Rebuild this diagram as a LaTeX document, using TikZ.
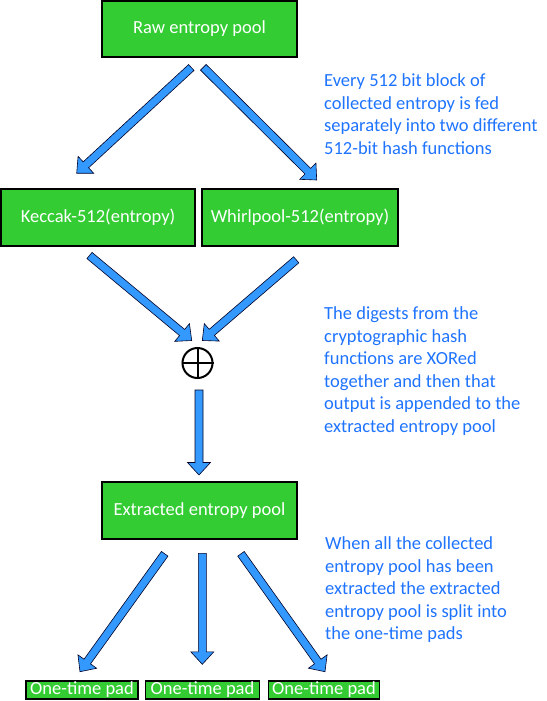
\documentclass[tikz,border=0pt]{standalone}
\usepackage{fontspec}
\setmainfont{Carlito}
\usetikzlibrary{calc}
\definecolor{boxgreen}{RGB}{51,204,51}
\definecolor{arrowblue}{RGB}{51,153,255}
\definecolor{noteblue}{RGB}{30,115,255}
\newcommand{\ashaft}{4pt}
\newcommand{\ahead}{11.5pt}
\newcommand{\ahlen}{12.5pt}
\newcommand{\blockarrow}[2]{%
  \path ($(#2)!\ahlen!(#1)$) coordinate (neck);
  \draw[barrow] ($(#1)!\ashaft!90:(#2)$) -- ($(neck)!\ashaft!90:(#2)$) -- ($(neck)!\ahead!90:(#2)$) -- (#2)
     -- ($(neck)!\ahead!-90:(#2)$) -- ($(neck)!\ashaft!-90:(#2)$) -- ($(#1)!\ashaft!-90:(#2)$) -- cycle;}
\tikzset{
  greenbox/.style={draw=black, line width=1.2pt, fill=boxgreen, text=white, inner sep=0pt,
    font=\fontsize{18.5}{22.6}\selectfont},
  barrow/.style={draw=black!85!blue, line width=0.6pt, fill=arrowblue, line join=miter},
  note/.style={text=noteblue, align=left, anchor=north west, inner sep=0pt,
    font=\fontsize{18.5}{22.6}\selectfont},
}
\begin{document}
\begin{tikzpicture}[x=1pt,y=-1pt]
\useasboundingbox (0,0) rectangle (546,701);
% boxes
\node[greenbox, minimum width=195pt, minimum height=56pt] (raw) at (199.5,29) {Raw entropy pool};
\node[greenbox, minimum width=194pt, minimum height=57pt] (keccak) at (98,217.5) {Keccak-512(entropy)};
\node[greenbox, minimum width=196pt, minimum height=57pt] (whirl) at (300,217.5) {Whirlpool-512(entropy)};
\node[greenbox, minimum width=195pt, minimum height=57pt] (extr) at (199.5,510.5) {Extracted entropy pool};
\node[greenbox, minimum width=112pt, minimum height=18pt] (pad1) at (82,690) {One-time pad};
\node[greenbox, minimum width=113.6pt, minimum height=18pt] (pad2) at (202.5,690) {One-time pad};
\node[greenbox, minimum width=110.6pt, minimum height=18pt] (pad3) at (324,690) {One-time pad};
% xor
\node[circle, draw=black, line width=2pt, minimum size=30pt, inner sep=0pt] (xor) at (197.5,363) {};
\draw[line width=2pt] (xor.north) -- (xor.south) (xor.west) -- (xor.east);
% arrow ends
\coordinate (a1t) at (191.3,67.5);  \coordinate (a1h) at (76.7,173.3);
\coordinate (a2t) at (203.3,67.3);  \coordinate (a2h) at (316.7,180);
\coordinate (a3t) at (89.5,255.5);  \coordinate (a3h) at (191.7,340.5);
\coordinate (a4t) at (296.2,259.8); \coordinate (a4h) at (202.3,340.5);
\coordinate (a5t) at (199,390);     \coordinate (a5h) at (199,475);
\coordinate (a6t) at (164.7,553.8); \coordinate (a6h) at (80,671.7);
\coordinate (a7t) at (202.3,553.3); \coordinate (a7h) at (202.3,664.3);
\coordinate (a8t) at (241,553.8);   \coordinate (a8h) at (325,671.7);
\blockarrow{a1t}{a1h}
\blockarrow{a2t}{a2h}
\blockarrow{a3t}{a3h}
\blockarrow{a4t}{a4h}
\blockarrow{a5t}{a5h}
\blockarrow{a6t}{a6h}
\blockarrow{a7t}{a7h}
\blockarrow{a8t}{a8h}
% notes
\node[note] (n1) at (324,73.5) {Every 512 bit block of\\collected entropy is fed\\separately into two different\\512-bit hash functions};
\node[note] (n2) at (324,306.5) {The digests from the\\cryptographic hash\\functions are XORed\\together and then that\\output is appended to the\\extracted entropy pool};
\node[note] (n3) at (325,536.5) {When all the collected\\entropy pool has been\\extracted the extracted\\entropy pool is split into\\the one-time pads};
\end{tikzpicture}
\end{document}
